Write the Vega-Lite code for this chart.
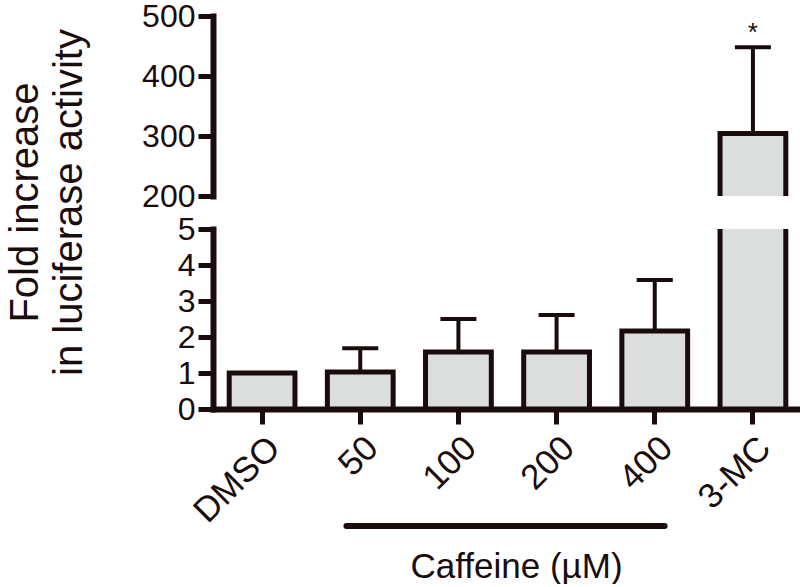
{
  "$schema": "https://vega.github.io/schema/vega-lite/v6.json",
  "padding": {"left": 4, "top": 0, "right": 2, "bottom": 0},
  "background": "white",
  "datasets": {
    "bars": [
      {"group": "DMSO", "mean": 1.0, "upper": null, "sig": ""},
      {"group": "50", "mean": 1.03, "upper": 1.69, "sig": ""},
      {"group": "100", "mean": 1.58, "upper": 2.5, "sig": ""},
      {"group": "200", "mean": 1.58, "upper": 2.61, "sig": ""},
      {"group": "400", "mean": 2.17, "upper": 3.58, "sig": ""},
      {"group": "3-MC", "mean": 304, "upper": 448, "sig": "*"}
    ],
    "bracket": [{"label": "Caffeine", "start": "50", "end": "400"}]
  },
  "config": {
    "view": {"stroke": null},
    "font": "Liberation Sans",
    "axis": {
      "domainColor": "#1a0c0c",
      "domainWidth": 6,
      "domainCap": "square",
      "tickColor": "#1a0c0c",
      "tickWidth": 5,
      "tickSize": 15,
      "labelColor": "#1a0c0c",
      "labelFont": "Liberation Sans",
      "labelFontSize": 32,
      "labelPadding": 3,
      "labelOverlap": false,
      "titleColor": "#1a0c0c",
      "titleFont": "Liberation Sans",
      "titleFontWeight": "normal",
      "grid": false,
      "zindex": 1
    }
  },
  "bounds": "flush",
  "spacing": 33,
  "vconcat": [
    {
      "width": 589,
      "height": 180,
      "data": {"name": "bars"},
      "transform": [{"filter": "datum.group === '3-MC'"}],
      "encoding": {
        "x": {
          "field": "group",
          "type": "nominal",
          "sort": ["DMSO", "50", "100", "200", "400", "3-MC"],
          "scale": {"domain": ["DMSO", "50", "100", "200", "400", "3-MC"], "paddingInner": 0.33, "paddingOuter": 0.165},
          "axis": null
        }
      },
      "layer": [
        {
          "mark": {"type": "bar", "fill": "#dcdddd", "stroke": "#1a0c0c", "strokeWidth": 5, "clip": true},
          "encoding": {
            "y": {"field": "mean", "type": "quantitative", "scale": {"domain": [200, 500], "zero": false, "nice": false},
              "axis": {"values": [200, 300, 400, 500], "title": null, "labelFontSize": 32, "labelOverlap": false}},
            "y2": {"datum": 0}
          }
        },
        {
          "mark": {"type": "rule", "stroke": "#1a0c0c", "strokeWidth": 4},
          "encoding": {"y": {"field": "upper", "type": "quantitative", "axis": {"values": [200, 300, 400, 500], "title": null, "labelFontSize": 32, "labelOverlap": false}}, "y2": {"field": "mean"}}
        },
        {
          "mark": {"type": "tick", "color": "#1a0c0c", "size": 36, "thickness": 4, "opacity": 1},
          "encoding": {"y": {"field": "upper", "type": "quantitative", "axis": {"values": [200, 300, 400, 500], "title": null, "labelFontSize": 32, "labelOverlap": false}}}
        },
        {
          "mark": {"type": "text", "fontSize": 26, "baseline": "alphabetic", "dy": -6, "color": "#1a0c0c"},
          "encoding": {"y": {"field": "upper", "type": "quantitative", "axis": {"values": [200, 300, 400, 500], "title": null, "labelFontSize": 32, "labelOverlap": false}}, "text": {"field": "sig"}}
        }
      ]
    },
    {
      "width": 589,
      "height": 180,
      "layer": [
        {
          "data": {"name": "bars"},
          "mark": {"type": "bar", "fill": "#dcdddd", "stroke": "#1a0c0c", "strokeWidth": 5, "clip": true},
          "encoding": {
            "x": {
              "field": "group",
              "type": "nominal",
              "sort": ["DMSO", "50", "100", "200", "400", "3-MC"],
              "scale": {"domain": ["DMSO", "50", "100", "200", "400", "3-MC"], "paddingInner": 0.33, "paddingOuter": 0.165},
              "axis": {
                "title": "Caffeine (µM)",
                "labelAngle": -45,
                "labelFontSize": 35,
                "labelPadding": 6,
                "labelOverlap": false,
                "titleFontSize": 35,
                "titleX": 303,
                "titleY": 168,
                "titleAlign": "center",
                "titleBaseline": "alphabetic"
              }
            },
            "y": {"field": "mean", "type": "quantitative", "scale": {"domain": [0, 5], "nice": false},
              "axis": {
                "values": [0, 1, 2, 3, 4, 5],
                "tickCount": 6,
                "labelFontSize": 32,
                "labelOverlap": false,
                "title": ["Fold increase", "in luciferase activity"],
                "titleFontSize": 40,
                "titleLineHeight": 44,
                "titleAngle": -90,
                "titleX": -176,
                "titleY": -27,
                "titleAlign": "center",
                "titleBaseline": "alphabetic"
              }},
            "y2": {"datum": 0}
          }
        },
        {
          "data": {"name": "bars"},
          "transform": [{"filter": "datum.upper != null && datum.group !== '3-MC'"}],
          "mark": {"type": "rule", "stroke": "#1a0c0c", "strokeWidth": 4},
          "encoding": {
            "x": {"field": "group", "type": "nominal", "title": "Caffeine (µM)"},
            "y": {"field": "upper", "type": "quantitative", "title": ["Fold increase", "in luciferase activity"], "axis": {"values": [0, 1, 2, 3, 4, 5], "tickCount": 6, "labelOverlap": false}},
            "y2": {"field": "mean"}
          }
        },
        {
          "data": {"name": "bars"},
          "transform": [{"filter": "datum.upper != null && datum.group !== '3-MC'"}],
          "mark": {"type": "tick", "color": "#1a0c0c", "size": 36, "thickness": 4, "opacity": 1},
          "encoding": {
            "x": {"field": "group", "type": "nominal", "title": "Caffeine (µM)"},
            "y": {"field": "upper", "type": "quantitative", "title": ["Fold increase", "in luciferase activity"], "axis": {"values": [0, 1, 2, 3, 4, 5], "tickCount": 6, "labelOverlap": false}}
          }
        },
        {
          "data": {"name": "bracket"},
          "mark": {"type": "rule", "stroke": "#1a0c0c", "strokeWidth": 6, "strokeCap": "round"},
          "encoding": {
            "x": {"field": "start", "type": "nominal", "bandPosition": 0.29, "title": "Caffeine (µM)"},
            "x2": {"field": "end", "bandPosition": 0.65},
            "y": {"datum": -3.25, "title": ["Fold increase", "in luciferase activity"], "axis": {"values": [0, 1, 2, 3, 4, 5], "tickCount": 6, "labelOverlap": false}}
          }
        }
      ]
    }
  ]
}
